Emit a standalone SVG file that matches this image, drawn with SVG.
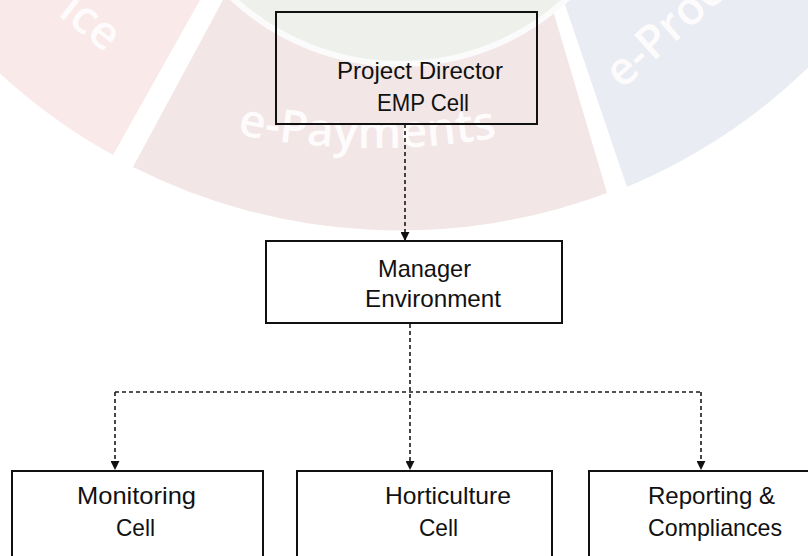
<svg xmlns="http://www.w3.org/2000/svg" width="808" height="556" viewBox="0 0 808 556">
  <style>
    .box { fill: none; stroke: #111; stroke-width: 2; }
    .lbl { font-family: "Liberation Sans", Arial, sans-serif; font-size: 24px; fill: #111; }
    .wm { font-family: "Open Sans", "Liberation Sans", sans-serif; font-weight: 600; font-size: 46px; fill: #fdfbfb; }
    .link { fill: none; stroke: #1a1a1a; stroke-width: 1.6; stroke-dasharray: 4 3; }
  </style>
  <defs>
    <marker id="arrow" viewBox="0 0 10 10" refX="9" refY="5" markerWidth="9" markerHeight="9" markerUnits="userSpaceOnUse" orient="auto">
      <path d="M0,0 L10,5 L0,10 Z" fill="#111"/>
    </marker>
    <path id="arcPink" d="M 120,100 A 700 700 0 0 0 630,100"/>
  </defs>

  <rect x="0" y="0" width="808" height="556" fill="#ffffff"/>

  <!-- background emblem: ring segments -->
  <g id="emblem">
    <path d="M -10,-10 L 205.6,-10 L 113,155 A 590 590 0 0 1 -10,64 Z" fill="#f9e9e9"/>
    <path d="M 228.4,-10 L 547,-10 L 607,193 A 592 592 0 0 1 133,167 Z" fill="#f2e6e6"/>
    <path d="M 560,-10 L 818,-10 L 818,58 A 590 590 0 0 1 627,187 Z" fill="#e9ecf2"/>
    <circle cx="400" cy="-182" r="246" fill="#eef1eb" stroke="#fbfbfb" stroke-width="6"/>
    <text class="wm" x="106" y="53" text-anchor="end" transform="rotate(38 106 53)">ice</text>
    <text class="wm"><textPath href="#arcPink" startOffset="48.5%" text-anchor="middle" textLength="262" lengthAdjust="spacingAndGlyphs">e-Payments</textPath></text>
    <text class="wm" x="622" y="90" transform="rotate(-42 622 90)">e-Proc</text>
  </g>

  <!-- connectors -->
  <g id="connectors">
    <path class="link" d="M405,124 L405,240" marker-end="url(#arrow)"/>
    <path class="link" d="M410,324 L410,469" marker-end="url(#arrow)"/>
    <path class="link" d="M115,392 L701,392"/>
    <path class="link" d="M115,392 L115,469" marker-end="url(#arrow)"/>
    <path class="link" d="M701,392 L701,469" marker-end="url(#arrow)"/>
  </g>

  <g id="project-director">
    <rect class="box" x="276" y="12" width="261" height="112"/>
    <text class="lbl" x="337" y="79" textLength="166" lengthAdjust="spacingAndGlyphs">Project Director</text>
    <text class="lbl" x="377" y="111" textLength="92" lengthAdjust="spacingAndGlyphs">EMP Cell</text>
  </g>

  <g id="manager-environment">
    <rect class="box" x="266" y="241" width="296" height="82"/>
    <text class="lbl" x="378" y="277" textLength="93" lengthAdjust="spacingAndGlyphs">Manager</text>
    <text class="lbl" x="365" y="307" textLength="136" lengthAdjust="spacingAndGlyphs">Environment</text>
  </g>

  <g id="monitoring-cell">
    <rect class="box" x="12" y="471" width="251" height="100"/>
    <text class="lbl" x="77" y="504" textLength="119" lengthAdjust="spacingAndGlyphs">Monitoring</text>
    <text class="lbl" x="116" y="536" textLength="39" lengthAdjust="spacingAndGlyphs">Cell</text>
  </g>

  <g id="horticulture-cell">
    <rect class="box" x="297" y="471" width="255" height="100"/>
    <text class="lbl" x="385" y="504" textLength="126" lengthAdjust="spacingAndGlyphs">Horticulture</text>
    <text class="lbl" x="419" y="536" textLength="39" lengthAdjust="spacingAndGlyphs">Cell</text>
  </g>

  <g id="reporting-compliances">
    <rect class="box" x="589" y="471" width="240" height="100"/>
    <text class="lbl" x="648" y="504" textLength="127" lengthAdjust="spacingAndGlyphs">Reporting &amp;</text>
    <text class="lbl" x="648" y="536" textLength="134" lengthAdjust="spacingAndGlyphs">Compliances</text>
  </g>
</svg>
